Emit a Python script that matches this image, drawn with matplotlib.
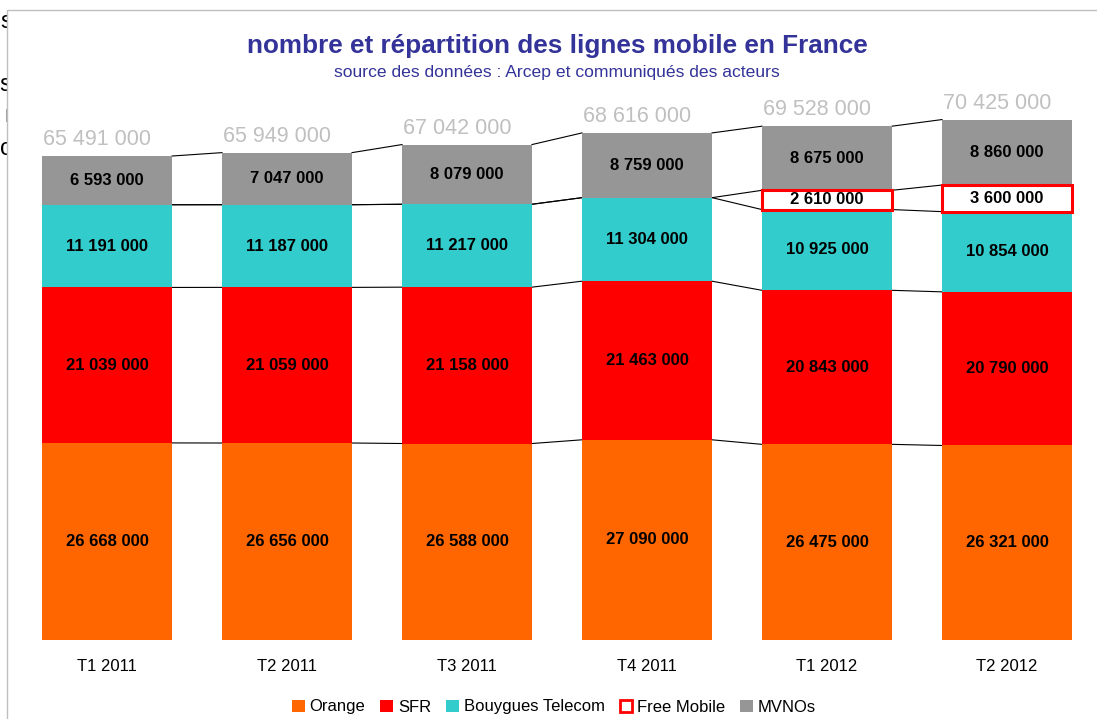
import matplotlib.pyplot as plt
from matplotlib.patches import Rectangle, Patch

plt.rcParams['font.family'] = ['Liberation Sans', 'DejaVu Sans']

# données (en milliers de lignes)
periodes = ['T1 2011', 'T2 2011', 'T3 2011', 'T4 2011', 'T1 2012', 'T2 2012']
orange = [26668, 26656, 26588, 27090, 26475, 26321]
sfr = [21039, 21059, 21158, 21463, 20843, 20790]
bouygues = [11191, 11187, 11217, 11304, 10925, 10854]
free = [0, 0, 0, 0, 2610, 3600]
mvno = [6593, 7047, 8079, 8759, 8675, 8860]

noms = ['Orange', 'SFR', 'Bouygues Telecom', 'Free Mobile', 'MVNOs']
series = [orange, sfr, bouygues, free, mvno]
couleurs = ['#FF6600', '#FF0000', '#33CCCC', 'white', '#969696']


def fmt(v):
    return f"{v * 1000:,}".replace(",", " ")


W, H = 1097, 719
fig = plt.figure(figsize=(W / 100, H / 100), dpi=100)

# morceaux de texte derrière le cadre du graphique
for y, s in [(22, 's'), (85, 'us'), (116, 'r'), (149, 'c')]:
    fig.text(12 / W, 1 - y / H, s, ha='right', va='center', fontsize=17,
             zorder=0.5)
fig.patches.append(Rectangle((7 / W, -0.1), 1.2, 1 - 10 / H + 0.1,
                             facecolor='white', edgecolor='#BFBFBF',
                             linewidth=1, transform=fig.transFigure,
                             zorder=0.8))

ax = fig.add_axes([17 / W, (H - 640) / H, 1080 / W, 540 / H])
ax.set_zorder(2)
ax.patch.set_visible(False)

x = list(range(len(periodes)))
largeur = 0.722
bas = [0] * len(periodes)
cumuls = []
for nom, vals, c in zip(noms, series, couleurs):
    for i, v in enumerate(vals):
        if v <= 0:
            continue
        if nom == 'Free Mobile':
            ax.bar(i, v, largeur, bottom=bas[i], color='white',
                   edgecolor='#FF0000', linewidth=2.2, zorder=3)
        else:
            ax.bar(i, v, largeur, bottom=bas[i], color=c, linewidth=0, zorder=2)
        ax.text(i, bas[i] + v / 2, fmt(v), ha='center', va='center',
                fontsize=12, fontweight='bold', zorder=4)
    bas = [b + v for b, v in zip(bas, vals)]
    cumuls.append(bas)

# lignes de liaison entre les barres
for cum in cumuls:
    for i in range(len(periodes) - 1):
        ax.plot([i + largeur / 2, i + 1 - largeur / 2], [cum[i], cum[i + 1]],
                color='black', linewidth=0.8, zorder=1)

# totaux
for i, t in enumerate(cumuls[-1]):
    ax.text(i - largeur / 2 + 0.005, t + 800, fmt(t), ha='left', va='bottom',
            fontsize=15.5, color='#C0C0C0')

ax.set_xlim(-0.5, 5.5)
ax.set_ylim(0, 540 / 7.39 * 1000)
ax.set_xticks(x)
ax.set_xticklabels(periodes, fontsize=12)
ax.tick_params(axis='x', length=0, pad=14)
ax.set_yticks([])
for s in ax.spines.values():
    s.set_visible(False)

fig.text(557 / W, 1 - 46 / H, 'nombre et répartition des lignes mobile en France',
         ha='center', va='center', fontsize=18.8, fontweight='bold', color='#333399')
fig.text(557 / W, 1 - 73 / H, 'source des données : Arcep et communiqués des acteurs',
         ha='center', va='center', fontsize=12.6, color='#333399')

poignees = [Patch(facecolor=c, edgecolor='#FF0000' if n == 'Free Mobile' else c,
                  linewidth=2 if n == 'Free Mobile' else 0)
            for n, c in zip(noms, couleurs)]
fig.legend(poignees, noms, loc='center', bbox_to_anchor=(554 / W, 1 - 707 / H),
           ncol=5, frameon=False, fontsize=12, handlelength=0.75,
           handleheight=0.75, handletextpad=0.3, columnspacing=0.9)

fig.savefig('out.png', dpi=100)
